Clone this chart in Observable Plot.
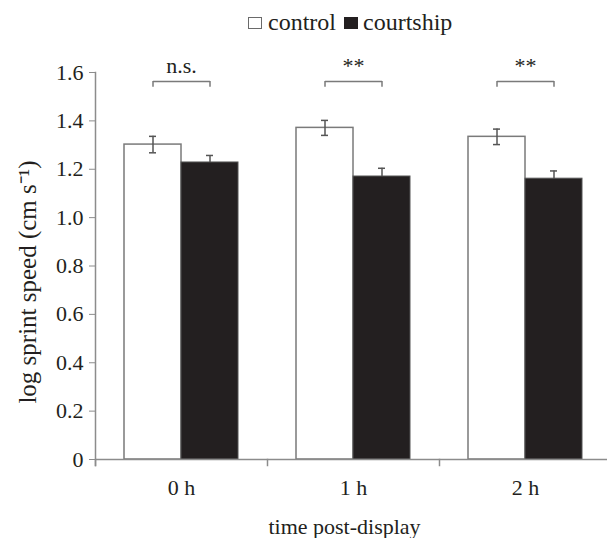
<!DOCTYPE html>
<html>
<head>
<meta charset="utf-8">
<script src="https://cdn.jsdelivr.net/npm/d3@7"></script>
<script src="https://cdn.jsdelivr.net/npm/@observablehq/plot@0.6"></script>
<style>
  html, body { margin: 0; padding: 0; background: #fff; }
  #legend { position: relative; width: 607px; height: 45px; font-family: "Liberation Serif", serif; font-size: 24px; line-height: 24px; color: #231f20; }
  #legend .sw { position: absolute; top: 17px; width: 12px; height: 10px; border: 1.5px solid #6a6a6a; }
  #legend .lb { position: absolute; top: 10px; white-space: nowrap; }
</style>
</head>
<body>
<div id="legend">
  <span class="sw" style="left:248px;background:#fff"></span>
  <span class="lb" style="left:268px">control</span>
  <span class="sw" style="left:344px;background:#231f20;border-color:#231f20"></span>
  <span class="lb" style="left:363px">courtship</span>
</div>
<div id="chart"></div>
<script>
const times = ["0 h", "1 h", "2 h"];
const groups = ["control", "courtship"];
const controlMean = [1.302, 1.371, 1.334];
const controlSE = [0.034, 0.031, 0.032];
const courtshipMean = [1.228, 1.170, 1.161];
const courtshipSE = [0.029, 0.034, 0.032];
const significance = ["n.s.", "**", "**"];
const yTicks = [0, 0.2, 0.4, 0.6, 0.8, 1.0, 1.2, 1.4, 1.6];
const yLabel = "log sprint speed (cm s\u207B\u00B9)";
const xLabel = "time post-display";
const bracketLevel = 1.563;
const bracketEnd = 1.539;
const labelLevel = 1.6;

const table = times.flatMap((t, i) => [
  {time: t, group: groups[0], mean: controlMean[i], se: controlSE[i]},
  {time: t, group: groups[1], mean: courtshipMean[i], se: courtshipSE[i]}
]);
const brackets = times.map((t, i) => ({time: t, label: significance[i]}));

const axisGray = "#8c8c8c";
const errGray = "#555555";

const chart = Plot.plot({
  width: 607,
  height: 493,
  marginLeft: 94,
  marginRight: -5,
  marginTop: 27,
  marginBottom: 79,
  style: {fontFamily: "Liberation Serif", fontSize: "22px", color: "#231f20", background: "white", overflow: "visible"},
  fx: {domain: times, padding: 0, label: null},
  x: {domain: groups, paddingInner: 0, paddingOuter: 0.5, axis: null},
  y: {domain: [0, 1.6], axis: null},
  marks: [
    Plot.barY(table.filter(d => d.group === "control"), {fx: "time", x: "group", y: "mean", fill: "white", stroke: "#7a7a7a", strokeWidth: 1.5}),
    Plot.ruleX(table, {fx: "time", x: "group", y1: d => d.mean - d.se, y2: d => d.mean + d.se, stroke: errGray, strokeWidth: 1.5}),
    Plot.tickY(table, {fx: "time", x: "group", y: d => d.mean + d.se, insetLeft: 25, insetRight: 25, stroke: errGray, strokeWidth: 1.5}),
    Plot.tickY(table, {fx: "time", x: "group", y: d => d.mean - d.se, insetLeft: 25, insetRight: 25, stroke: errGray, strokeWidth: 1.5}),
    Plot.barY(table.filter(d => d.group === "courtship"), {fx: "time", x: "group", y: "mean", fill: "#231f20", stroke: "#555", strokeWidth: 1}),
    Plot.ruleY([0], {stroke: axisGray, strokeWidth: 1.5}),
    Plot.frame({anchor: "left", insetTop: 387, insetBottom: -6, stroke: axisGray, strokeWidth: 1.5}),
    Plot.frame({anchor: "left", insetBottom: -6, stroke: axisGray, strokeWidth: 1.5, facetAnchor: "left"}),
    Plot.axisY({ticks: yTicks, tickFormat: d => d === 0 ? "0" : d.toFixed(1), tickSize: 6, tickPadding: 6, stroke: axisGray, fill: "#231f20", label: null, fontSize: 22}),
    Plot.axisFx({anchor: "bottom", tickSize: 0, tickPadding: 20, label: null, fontSize: 22, fill: "#231f20"}),
    Plot.link(brackets, {fx: "time", x1: () => groups[0], x2: () => groups[1], y1: () => bracketLevel, y2: () => bracketLevel, stroke: "#7a7a7a", strokeWidth: 1.5}),
    Plot.ruleX(table, {fx: "time", x: "group", y1: () => bracketEnd, y2: () => bracketLevel, stroke: "#7a7a7a", strokeWidth: 1.5}),
    Plot.text(brackets, {fx: "time", text: "label", y: () => labelLevel, lineAnchor: "bottom", fontSize: 22, fill: "#231f20"}),
    Plot.text([yLabel], {text: d => d, frameAnchor: "left", textAnchor: "middle", rotate: -90, dx: -68, dy: 16, lineAnchor: "middle", fontSize: 25, fill: "#231f20", facetAnchor: "left"}),
    Plot.text([xLabel], {text: d => d, frameAnchor: "bottom", dx: -9, dy: 67, lineAnchor: "middle", fontSize: 22, fill: "#231f20", facet: "super"})
  ]
});
document.getElementById("chart").appendChild(chart);
</script>
</body>
</html>
